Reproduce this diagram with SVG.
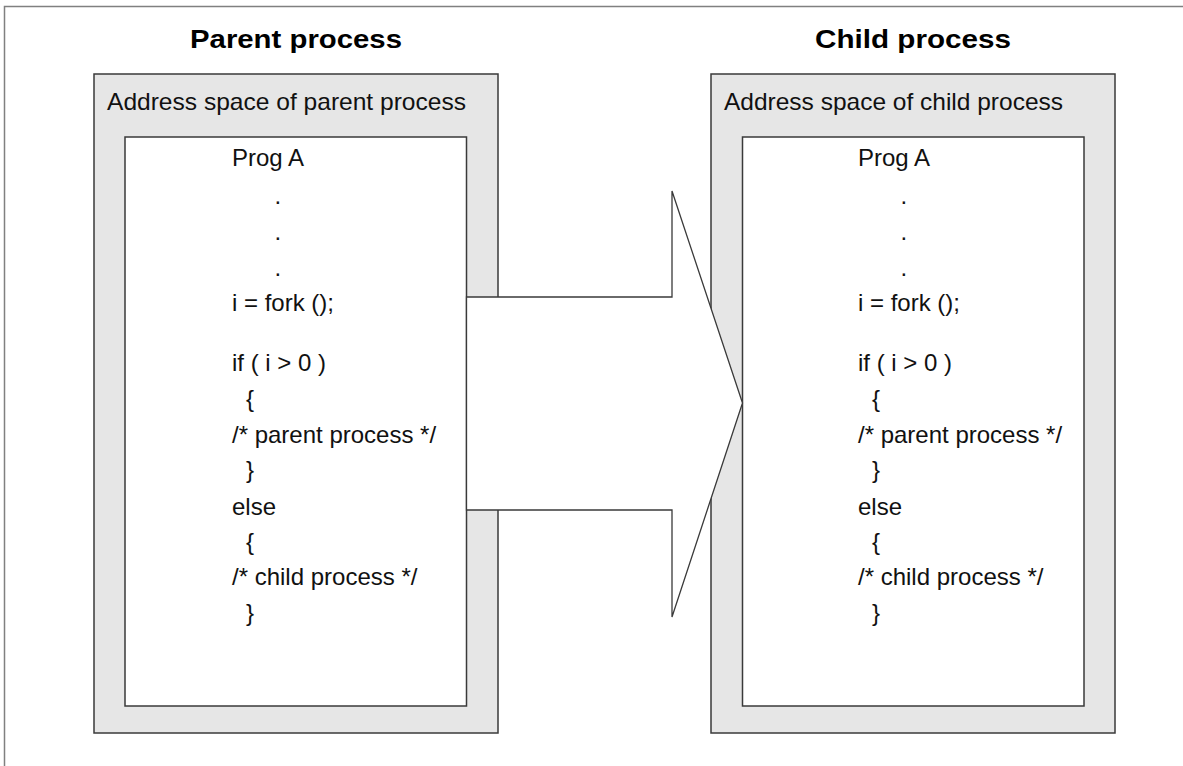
<svg xmlns="http://www.w3.org/2000/svg" width="1183" height="766" viewBox="0 0 1183 766">
<style>
.frame{fill:none;stroke:#808080;stroke-width:1.5}
.space{fill:#e6e6e6;stroke:#3a3a3a;stroke-width:1.5}
.prog{fill:#ffffff;stroke:#3a3a3a;stroke-width:1.5}
.arrow{fill:#ffffff;stroke:#3a3a3a;stroke-width:1.3;stroke-linejoin:miter}
.title{font-family:"Liberation Sans",Arial,sans-serif;font-weight:bold;font-size:26px;fill:#000;text-anchor:middle}
.lbl{font-family:"Liberation Sans",Arial,sans-serif;font-size:24px;fill:#111}
.code{font-family:"Liberation Sans",Arial,sans-serif;font-size:24px;fill:#111}
</style>
<rect width="1183" height="766" fill="#ffffff"/>
<path class="frame" d="M4.5,766 V6.5 H1183"/>

<g id="parent">
<text class="title" x="296" y="48" textLength="212" lengthAdjust="spacingAndGlyphs">Parent process</text>
<rect class="space" x="94" y="74" width="404" height="659"/>
<text class="lbl" x="107" y="110" textLength="359" lengthAdjust="spacingAndGlyphs">Address space of parent process</text>
<rect class="prog" x="125" y="137" width="341.5" height="569"/>
<g class="code">
<text x="232" y="166">Prog A</text>
<text x="274.5" y="204">.</text>
<text x="274.5" y="240">.</text>
<text x="274.5" y="276">.</text>
<text x="232" y="311">i = fork ();</text>
<text x="232" y="371">if ( i &gt; 0 )</text>
<text x="246" y="407">{</text>
<text x="232" y="443">/* parent process */</text>
<text x="246" y="478">}</text>
<text x="232" y="515">else</text>
<text x="246" y="550">{</text>
<text x="232" y="585">/* child process */</text>
<text x="246" y="621">}</text>
</g>
</g>

<g id="child">
<text class="title" x="913" y="48" textLength="196" lengthAdjust="spacingAndGlyphs">Child process</text>
<rect class="space" x="711" y="74" width="404" height="659"/>
<text class="lbl" x="724" y="110" textLength="339" lengthAdjust="spacingAndGlyphs">Address space of child process</text>
<rect class="prog" x="742.5" y="137" width="341.5" height="569"/>
<g class="code">
<text x="858" y="166">Prog A</text>
<text x="900.5" y="204">.</text>
<text x="900.5" y="240">.</text>
<text x="900.5" y="276">.</text>
<text x="858" y="311">i = fork ();</text>
<text x="858" y="371">if ( i &gt; 0 )</text>
<text x="872" y="407">{</text>
<text x="858" y="443">/* parent process */</text>
<text x="872" y="478">}</text>
<text x="858" y="515">else</text>
<text x="872" y="550">{</text>
<text x="858" y="585">/* child process */</text>
<text x="872" y="621">}</text>
</g>
</g>

<g id="connectors">
<polygon id="fork-arrow" class="arrow" points="466.5,297 672,297 672,191 742.5,403 672,617 672,510 466.5,510"/>
</g>
</svg>
